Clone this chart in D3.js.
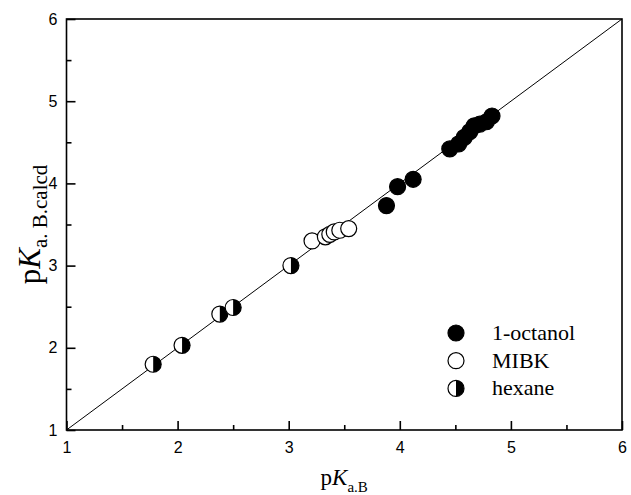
<!DOCTYPE html>
<html>
<head>
<meta charset="utf-8">
<script src="https://cdn.jsdelivr.net/npm/d3@7"></script>
<style>
  body { margin: 0; background: #fff; }
  svg { display: block; }
</style>
</head>
<body>
<div id="chart"></div>
<script>
// values
const octanolX = [3.88, 3.98, 4.12, 4.45, 4.53, 4.58, 4.63, 4.67, 4.72, 4.78, 4.83];
const octanolY = [3.73, 3.96, 4.05, 4.42, 4.48, 4.56, 4.63, 4.70, 4.72, 4.75, 4.82];
const mibkX = [3.21, 3.33, 3.37, 3.41, 3.46, 3.54];
const mibkY = [3.30, 3.35, 3.38, 3.41, 3.43, 3.45];
const hexaneX = [1.78, 2.04, 2.38, 2.50, 3.02];
const hexaneY = [1.80, 2.03, 2.41, 2.49, 3.00];
const majorTicks = [1, 2, 3, 4, 5, 6];
const minorTicks = [1.5, 2.5, 3.5, 4.5, 5.5];
const legendNames = ["1-octanol", "MIBK", "hexane"];

const W = 631, H = 495;
const mLeft = 66.5, mRight = 622, mTop = 19, mBottom = 430;
const r = 8;

const svg = d3.select('#chart').append('svg')
    .attr('width', W)
    .attr('height', H);

const x = d3.scaleLinear().domain([1, 6]).range([mLeft, mRight]);
const y = d3.scaleLinear().domain([1, 6]).range([mBottom, mTop]);

// y = x line
svg.append('line')
    .attr('x1', x(1)).attr('y1', y(1))
    .attr('x2', x(6)).attr('y2', y(6))
    .attr('stroke', '#000')
    .attr('stroke-width', 1);

// frame
svg.append('rect')
    .attr('x', mLeft).attr('y', mTop)
    .attr('width', mRight - mLeft).attr('height', mBottom - mTop)
    .attr('fill', 'none')
    .attr('stroke', '#000')
    .attr('stroke-width', 1.6);

// inward ticks on bottom and left
const xAxis = d3.axisBottom(x).tickValues(majorTicks).tickSize(-9).tickPadding(12).tickFormat(d3.format('d'));
const xMinor = d3.axisBottom(x).tickValues(minorTicks).tickSize(-5).tickFormat('');
const yAxis = d3.axisLeft(y).tickValues(majorTicks).tickSize(-9).tickPadding(9).tickFormat(d3.format('d'));
const yMinor = d3.axisLeft(y).tickValues(minorTicks).tickSize(-5).tickFormat('');

function styleAxis(g) {
    g.select('.domain').remove();
    g.selectAll('line').attr('stroke', '#000').attr('stroke-width', 1.6);
    g.selectAll('text')
        .attr('fill', '#000')
        .style('font-family', 'Liberation Sans, Arial, sans-serif')
        .style('font-size', '16px');
}

svg.append('g').attr('transform', `translate(0,${mBottom})`).call(xAxis).call(styleAxis);
svg.append('g').attr('transform', `translate(0,${mBottom})`).call(xMinor).call(styleAxis);
svg.append('g').attr('transform', `translate(${mLeft},0)`).call(yAxis).call(styleAxis);
svg.append('g').attr('transform', `translate(${mLeft},0)`).call(yMinor).call(styleAxis);

// points
const halfPath = `M0,${-r} A${r},${r} 0 0 1 0,${r} Z`;

function filledMark(g) {
    g.append('circle').attr('r', r).attr('fill', '#000').attr('stroke', '#000').attr('stroke-width', 1.2);
}
function openMark(g) {
    g.append('circle').attr('r', r).attr('fill', '#fff').attr('stroke', '#000').attr('stroke-width', 1.2);
}
function halfMark(g) {
    g.append('circle').attr('r', r).attr('fill', '#fff');
    g.append('path').attr('d', halfPath).attr('fill', '#000');
    g.append('circle').attr('r', r).attr('fill', 'none').attr('stroke', '#000').attr('stroke-width', 1.2);
}

function drawSeries(xs, ys, mark) {
    xs.forEach((v, i) => {
        const g = svg.append('g').attr('transform', `translate(${x(v)},${y(ys[i])})`);
        mark(g);
    });
}

drawSeries(hexaneX, hexaneY, halfMark);
drawSeries(mibkX, mibkY, openMark);
drawSeries(octanolX, octanolY, filledMark);

// legend
const marks = [filledMark, openMark, halfMark];
legendNames.forEach((name, i) => {
    const ly = 333 + i * 27.7;
    const g = svg.append('g').attr('transform', `translate(456,${ly})`);
    marks[i](g);
    svg.append('text')
        .attr('x', 492)
        .attr('y', ly + 7)
        .style('font-family', 'Liberation Serif, Times New Roman, serif')
        .style('font-size', '22px')
        .text(name);
});

// axis titles
const xt = svg.append('text')
    .attr('x', (mLeft + mRight) / 2)
    .attr('y', 485)
    .attr('text-anchor', 'middle')
    .style('font-family', 'Liberation Serif, Times New Roman, serif')
    .style('font-size', '23px');
xt.append('tspan').text('p');
xt.append('tspan').style('font-style', 'italic').text('K');
xt.append('tspan').attr('dy', 7).style('font-size', '15px').text('a.B');

const yt = svg.append('text')
    .attr('transform', `translate(40,${(mTop + mBottom) / 2}) rotate(-90)`)
    .attr('text-anchor', 'middle')
    .style('font-family', 'Liberation Serif, Times New Roman, serif')
    .style('font-size', '31px');
yt.append('tspan').text('p');
yt.append('tspan').style('font-style', 'italic').text('K');
yt.append('tspan').attr('dy', 7).style('font-size', '21px').text('a. B.calcd');
</script>
</body>
</html>
